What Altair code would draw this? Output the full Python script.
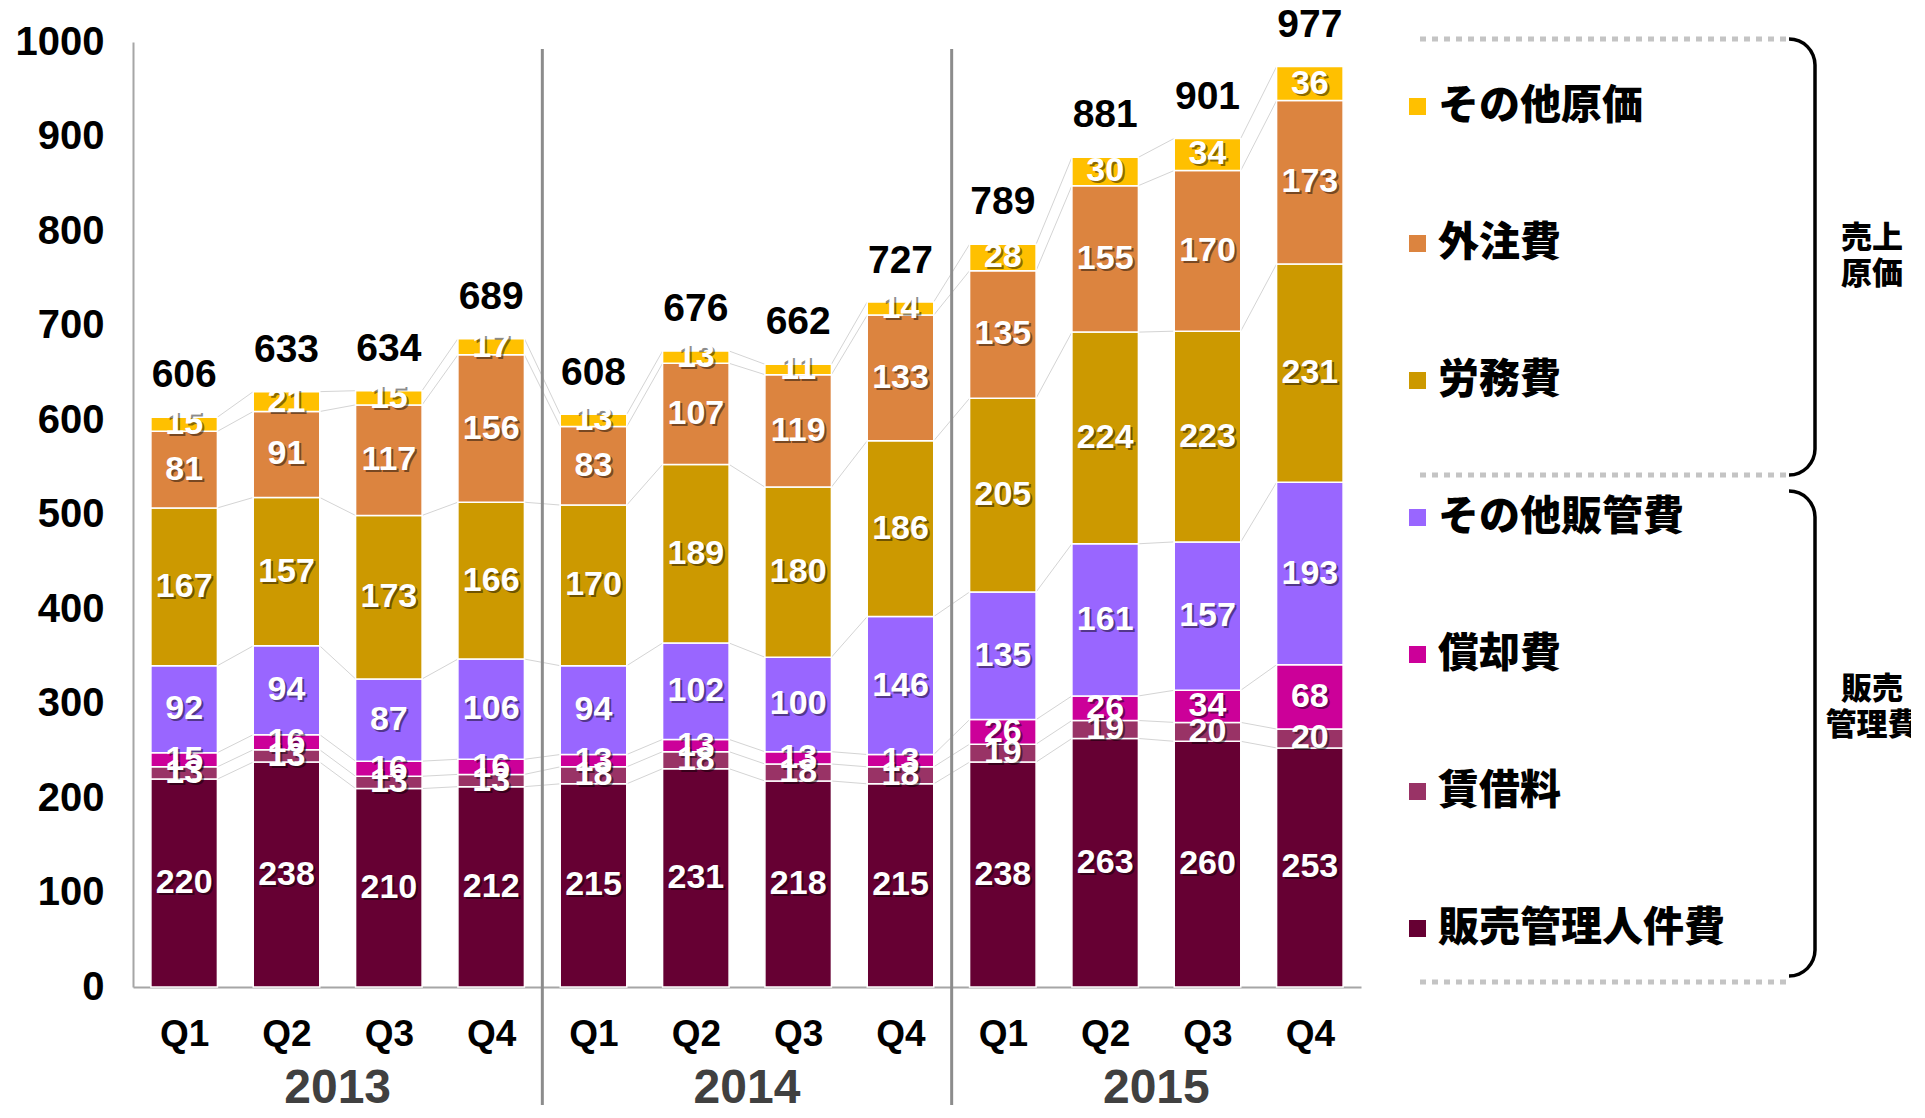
import altair as alt
import pandas as pd

# ---------------- data ----------------
quarters = ["Q1", "Q2", "Q3", "Q4"]
years = ["2013", "2014", "2015"]
# stacking order bottom -> top
series_names = ["販売管理人件費", "賃借料", "償却費", "その他販管費", "労務費", "外注費", "その他原価"]
personnel = [220, 238, 210, 212, 215, 231, 218, 215, 238, 263, 260, 253]
rent = [13, 13, 13, 13, 18, 18, 18, 18, 19, 19, 20, 20]
amort = [15, 16, 16, 16, 13, 13, 13, 13, 26, 26, 34, 68]
other_sga = [92, 94, 87, 106, 94, 102, 100, 146, 135, 161, 157, 193]
labor = [167, 157, 173, 166, 170, 189, 180, 186, 205, 224, 223, 231]
outsourcing = [81, 91, 117, 156, 83, 107, 119, 133, 135, 155, 170, 173]
other_cost = [15, 21, 15, 17, 13, 13, 11, 14, 28, 30, 34, 36]
totals = [606, 633, 634, 689, 608, 676, 662, 727, 789, 881, 901, 977]
series_colors = ["#660033", "#993366", "#CC0099", "#9966FF", "#CC9900", "#DC843F", "#FFC000"]
group_labels = ["売上\n原価", "販売\n管理費"]

series_values = [personnel, rent, amort, other_sga, labor, outsourcing, other_cost]
n = len(personnel)
half = 0.325

rows = []
tops = {s: [] for s in series_names}
for i in range(n):
    cum = 0
    for s, vals in zip(series_names, series_values):
        v = vals[i]
        rows.append({"series": s, "i": i, "x0": i - half, "x1": i + half,
                     "y0": cum, "y1": cum + v, "mid": cum + v / 2, "val": v})
        cum += v
        tops[s].append(cum)
bars_df = pd.DataFrame(rows)

conn_rows = []
for s in series_names:
    t = tops[s]
    for i in range(n - 1):
        conn_rows.append({"xa": i + half, "xb": i + 1 - half, "ya": t[i], "yb": t[i + 1]})
conn_df = pd.DataFrame(conn_rows)

tot_df = pd.DataFrame({"i": list(range(n)), "total": totals})
year_df = pd.DataFrame({"year": years, "xc": [1.5, 5.5, 9.5]})
sep_df = pd.DataFrame({"xs": [3.5, 7.5]})

NUM_FONT = "Liberation Sans"
JP_FONT = "Noto Sans CJK JP"

xscale = alt.Scale(domain=[-0.5, 11.5], nice=False, zero=False)
yscale = alt.Scale(domain=[0, 1000], nice=False)

legend_order = list(reversed(series_names))
legend_colors = list(reversed(series_colors))

bars = alt.Chart(bars_df).mark_bar(stroke="white", strokeWidth=1.5).encode(
    x=alt.X("x0:Q", scale=xscale, title=None,
            axis=alt.Axis(values=list(range(n)),
                          labelExpr="['Q1','Q2','Q3','Q4'][datum.value % 4]",
                          ticks=False, grid=False, labelOverlap=False, labelFlush=False,
                          labelFont=NUM_FONT, labelFontSize=37, labelFontWeight="bold",
                          labelColor="black", labelBaseline="middle", labelPadding=47,
                          domainColor="#a6a6a6", domainWidth=2)),
    x2="x1:Q",
    y=alt.Y("y0:Q", scale=yscale, title=None,
            axis=alt.Axis(values=list(range(0, 1001, 100)), format="d", ticks=False,
                          grid=False, labelFont=NUM_FONT, labelFontSize=40,
                          labelFontWeight="bold", labelColor="black", labelPadding=29,
                          domainColor="#a6a6a6", domainWidth=2)),
    y2="y1:Q",
    color=alt.Color("series:N",
                    scale=alt.Scale(domain=legend_order, range=legend_colors),
                    legend=alt.Legend(orient="none", legendX=1258, legendY=44, title=None,
                                      symbolType="square", symbolSize=289,
                                      symbolOffset=6,
                                      symbolStrokeWidth=0, symbolOpacity=1,
                                      labelFontSize=41, labelFont=JP_FONT,
                                      labelFontWeight=900, labelColor="black",
                                      labelOffset=0, rowPadding=95, padding=0,
                                      labelLimit=600)),
)

connectors = alt.Chart(conn_df).mark_rule(color="#d4d4d4", strokeWidth=1).encode(
    x=alt.X("xa:Q", scale=xscale), x2="xb:Q",
    y=alt.Y("ya:Q", scale=yscale), y2="yb:Q",
)

separators = alt.Chart(sep_df).mark_rule(color="#8c8c8c", strokeWidth=3).encode(
    x=alt.X("xs:Q", scale=xscale), y=alt.value(7), y2=alt.value(1063),
)

shadow = alt.Chart(bars_df).mark_text(
    font=NUM_FONT, fontSize=34, fontWeight="bold", color="#000000", opacity=0.45,
    dx=2, dy=2, baseline="middle", align="center").encode(
    x=alt.X("i:Q", scale=xscale), y=alt.Y("mid:Q", scale=yscale), text="val:Q")

seg_labels = alt.Chart(bars_df).mark_text(
    font=NUM_FONT, fontSize=34, fontWeight="bold", color="white",
    baseline="middle", align="center").encode(
    x=alt.X("i:Q", scale=xscale), y=alt.Y("mid:Q", scale=yscale), text="val:Q")

total_labels = alt.Chart(tot_df).mark_text(
    font=NUM_FONT, fontSize=39, fontWeight="bold", color="black",
    baseline="middle", align="center", dy=-39).encode(
    x=alt.X("i:Q", scale=xscale), y=alt.Y("total:Q", scale=yscale), text="total:Q")

year_labels = alt.Chart(year_df).mark_text(
    font=NUM_FONT, fontSize=48, fontWeight="bold", color="#404040",
    baseline="middle", align="center").encode(
    x=alt.X("xc:Q", scale=xscale), y=alt.value(1047), text="year:N")

one = pd.DataFrame({"k": [0]})

def hdots(yv):
    return alt.Chart(one).mark_rule(color="#c4c4c4", strokeWidth=5, strokeDash=[6, 6]).encode(
        x=alt.value(1287), x2=alt.value(1655), y=alt.value(yv))

def brace(ytop, ybot):
    r = 26
    parts = []
    parts.append(alt.Chart(one).mark_arc(radius=r + 1.75, radius2=r - 1.75, theta=0,
                                         theta2=1.5708, color="black").encode(
        x=alt.value(1656), y=alt.value(ytop + r)))
    parts.append(alt.Chart(one).mark_arc(radius=r + 1.75, radius2=r - 1.75, theta=1.5708,
                                         theta2=3.1416, color="black").encode(
        x=alt.value(1656), y=alt.value(ybot - r)))
    parts.append(alt.Chart(one).mark_rule(color="black", strokeWidth=3.5).encode(
        x=alt.value(1656 + r), y=alt.value(ytop + r), y2=alt.value(ybot - r)))
    return parts

def group_text(txt, yv):
    return alt.Chart(pd.DataFrame({"t": [txt]})).mark_text(
        font=JP_FONT, fontSize=31, fontWeight=900, color="black", align="center",
        baseline="middle", lineBreak="\n", lineHeight=36).encode(
        x=alt.value(1739), y=alt.value(yv), text="t:N")

decor = [hdots(-3), hdots(433), hdots(940)] + brace(-3, 433) + brace(449, 934) + [
    group_text(group_labels[0], 197), group_text(group_labels[1], 648)]

chart = alt.layer(connectors, bars, separators, shadow, seg_labels, total_labels,
                  year_labels, *decor).properties(
    width=1228, height=945, autosize="none", background="white",
    padding={"left": 125, "top": 34, "right": 550, "bottom": 122},
).configure_view(strokeWidth=0, stroke="transparent")

chart.save("out.html", embed_options={"renderer": "svg", "actions": False})
